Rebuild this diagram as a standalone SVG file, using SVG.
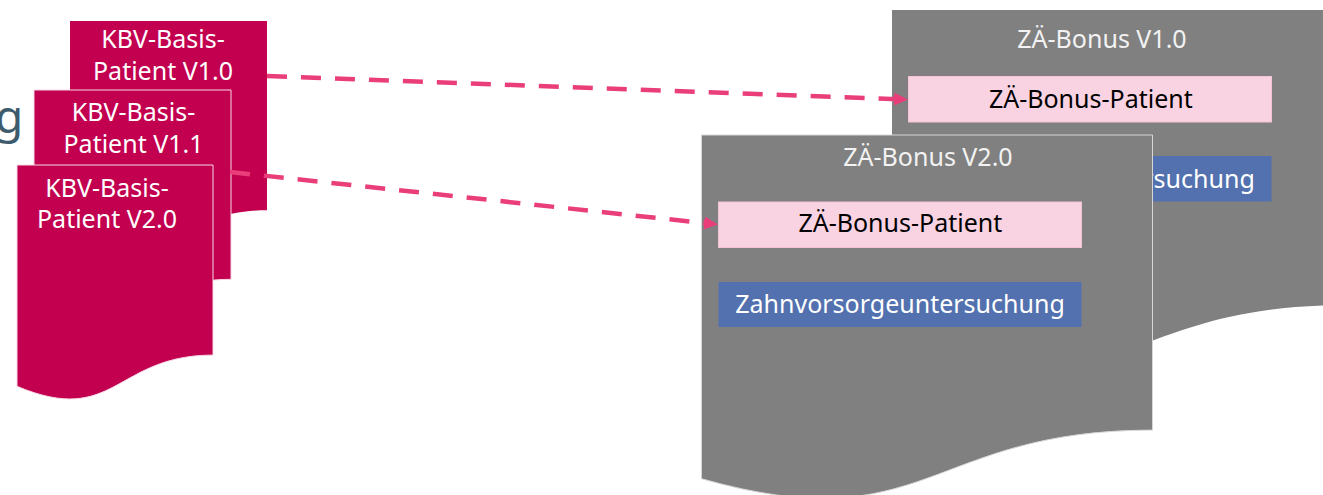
<svg xmlns="http://www.w3.org/2000/svg" width="1323" height="495" viewBox="0 0 1323 495">
<style>
text{font-family:"Noto Sans","Open Sans",sans-serif;font-size:25px;text-anchor:middle}
.kbv{fill:#C2004F}
.kbvs{stroke:#F6D7E4;stroke-width:1}
.wt{fill:#FFFFFF}
.gray{fill:#808080}
.grays{stroke:#D6D6D6;stroke-width:1}
.ttl{fill:#F2F2F2}
.pink{fill:#F9D3E2;stroke:#F4C2D6;stroke-width:1}
.blue{fill:#5271AE}
.blk{fill:#000000}
.conn{fill:none;stroke:#EA3E7A;stroke-width:4.5;stroke-dasharray:20 14;marker-end:url(#ah)}
</style>
<defs>
<marker id="ah" markerUnits="userSpaceOnUse" markerWidth="14" markerHeight="13" refX="4" refY="6.5" orient="auto" viewBox="0 0 14 13">
<path d="M0,0 L14,6.5 L0,13 Z" fill="#EA3E7A"/>
</marker>
</defs>
<text x="-5" y="133" style="font-size:46px;fill:#3E5B6D;text-anchor:start">g</text>
<g id="kbv-v10">
<path class="kbv" d="M70,21 H267 V210.3 C168.5,210.3 168.5,282.4 70,241.4 Z"/>
<text class="wt" x="163" y="48.3">KBV-Basis-</text>
<text class="wt" x="163" y="79.5">Patient V1.0</text>
</g>
<g id="kbv-v11">
<path class="kbv kbvs" d="M34,90 H231 V279.3 C132.5,279.3 132.5,351.4 34,310.4 Z"/>
<text class="wt" x="133.5" y="120.5">KBV-Basis-</text>
<text class="wt" x="133.5" y="152.5">Patient V1.1</text>
</g>
<g id="kbv-v20">
<path class="kbv kbvs" d="M17,165 H213 V355.1 C115,355.1 115,427.5 17,386.3 Z"/>
<text class="wt" x="107" y="196.7">KBV-Basis-</text>
<text class="wt" x="107" y="228.3">Patient V2.0</text>
</g>
<g id="zae-v10">
<path class="gray" d="M892,10 H1344 V305.1 C1118,305.1 1118,417.6 892,353.7 Z"/>
<text class="ttl" x="1102" y="48.3">ZÄ-Bonus V1.0</text>
<rect class="pink" x="908.5" y="76.5" width="363" height="45.5"/>
<text class="blk" x="1090.8" y="108.3">ZÄ-Bonus-Patient</text>
<rect class="blue" x="908.5" y="156" width="363" height="45.5"/>
<text class="wt" x="1090" y="187.6">Zahnvorsorgeuntersuchung</text>
</g>
<g id="zae-v20">
<path class="gray grays" d="M701.5,135 H1152.5 V430.1 C927,430.1 927,542.6 701.5,478.7 Z"/>
<text class="ttl" x="928" y="165.7">ZÄ-Bonus V2.0</text>
<rect class="pink" x="718.5" y="202" width="363" height="45.5"/>
<text class="blk" x="900.3" y="231.7">ZÄ-Bonus-Patient</text>
<rect class="blue" x="718.5" y="282" width="363" height="45"/>
<text class="wt" x="900" y="313.3">Zahnvorsorgeuntersuchung</text>
</g>
<g id="connectors">
<path class="conn" d="M267,76 L898,99.13"/>
<path class="conn" d="M230,172 L708.06,223.43"/>
</g>
</svg>
